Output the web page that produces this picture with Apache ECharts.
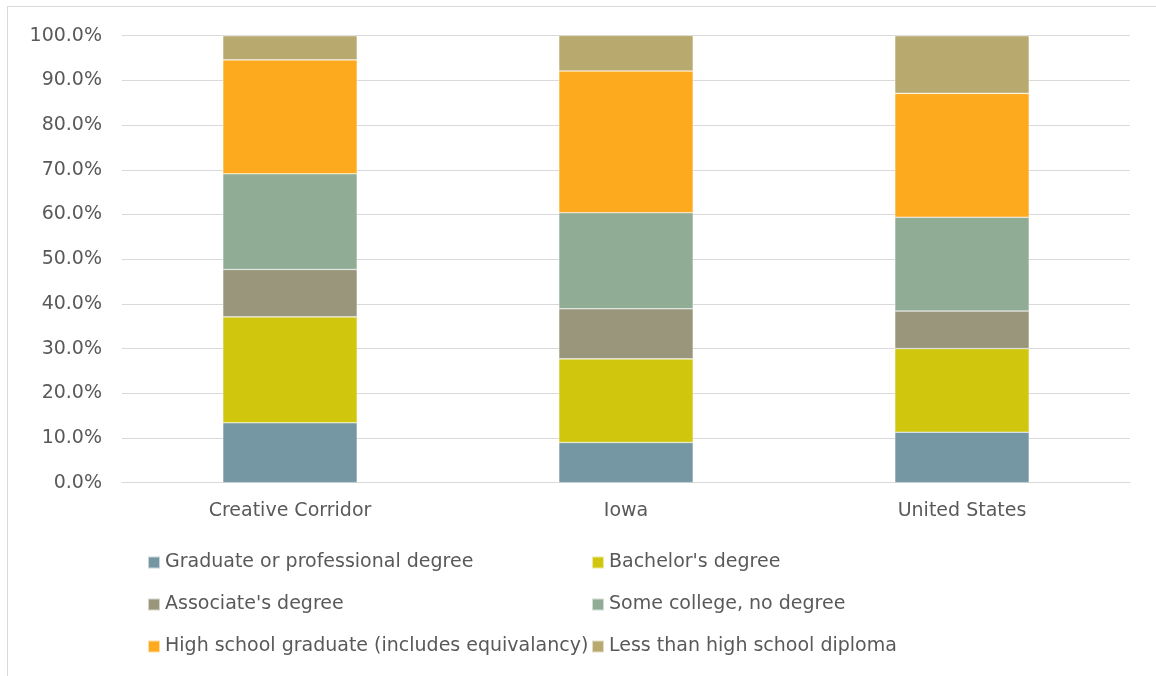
<!DOCTYPE html>
<html>
<head>
<meta charset="utf-8">
<script src="https://cdn.jsdelivr.net/npm/echarts@6/dist/echarts.min.js"></script>
<style>
  html, body { margin: 0; padding: 0; background: #fff; }
  #frame { position: absolute; left: 7px; top: 6px; width: 1149px; height: 670px;
           border-left: 1.5px solid #d9d9d9; border-top: 1.5px solid #d9d9d9; box-sizing: border-box; }
  #chart { position: absolute; left: 0; top: 0; width: 1156px; height: 676px; }
</style>
</head>
<body>
<div id="frame"></div>
<div id="chart"></div>
<script>
// Educational attainment shares (%), population 25 years and over
const regions = ['Creative Corridor', 'Iowa', 'United States'];
const graduate     = [13.4,  9.0, 11.3];
const bachelors    = [23.7, 18.7, 18.7];
const associates   = [10.6, 11.2,  8.4];
const someCollege  = [21.4, 21.5, 21.0];
const highSchool   = [25.5, 31.7, 27.7];
const lessThanHS   = [ 5.4,  8.0, 12.9];

const seriesNames = [
  'Graduate or professional degree',
  "Bachelor's degree",
  "Associate's degree",
  'Some college, no degree',
  'High school graduate (includes equivalancy)',
  'Less than high school diploma'
];
const seriesData = [graduate, bachelors, associates, someCollege, highSchool, lessThanHS];
const colors = ['#7597A3', '#D0C60D', '#99967C', '#90AC95', '#FEAA1F', '#B8AA6F'];

const FONT = '"DejaVu Sans", sans-serif';
const TEXT = '#595959';
const FS = 19;

const chart = echarts.init(document.getElementById('chart'), null, { renderer: 'canvas' });

const series = seriesNames.map((name, i) => ({
  name,
  type: 'bar',
  stack: 'total',
  barWidth: '40%',
  data: seriesData[i],
  itemStyle: { color: colors[i], borderColor: 'rgba(255,255,255,0.6)', borderWidth: 0.6 },
  emphasis: { disabled: true }
}));

// Legend laid out as a two-column grid: one legend block per entry
const legendCols = [147, 591];
const legendRows = [553, 595, 637];
const legends = seriesNames.map((name, i) => ({
  left: legendCols[i % 2],
  top: legendRows[Math.floor(i / 2)],
  padding: 0,
  data: [name],
  icon: 'rect',
  itemWidth: 12,
  itemHeight: 12,
  selectedMode: false,
  textStyle: { color: TEXT, fontSize: FS, fontFamily: FONT }
}));

chart.setOption({
  color: colors,
  animation: false,
  textStyle: { fontFamily: FONT },
  grid: { left: 122, right: 26, top: 35.7, bottom: 193.3, containLabel: false },
  legend: legends,
  xAxis: {
    type: 'category',
    data: regions,
    axisLine: { show: true, lineStyle: { color: '#d9d9d9', width: 1 } },
    axisTick: { show: false },
    axisLabel: { color: TEXT, fontSize: FS, fontFamily: FONT, margin: 19 }
  },
  yAxis: {
    type: 'value',
    min: 0,
    max: 100,
    interval: 10,
    axisLine: { show: false },
    axisTick: { show: false },
    splitLine: { lineStyle: { color: '#d9d9d9', width: 1 } },
    axisLabel: {
      color: TEXT, fontSize: FS, fontFamily: FONT, margin: 20,
      formatter: v => v.toFixed(1) + '%'
    }
  },
  series
});
</script>
</body>
</html>
